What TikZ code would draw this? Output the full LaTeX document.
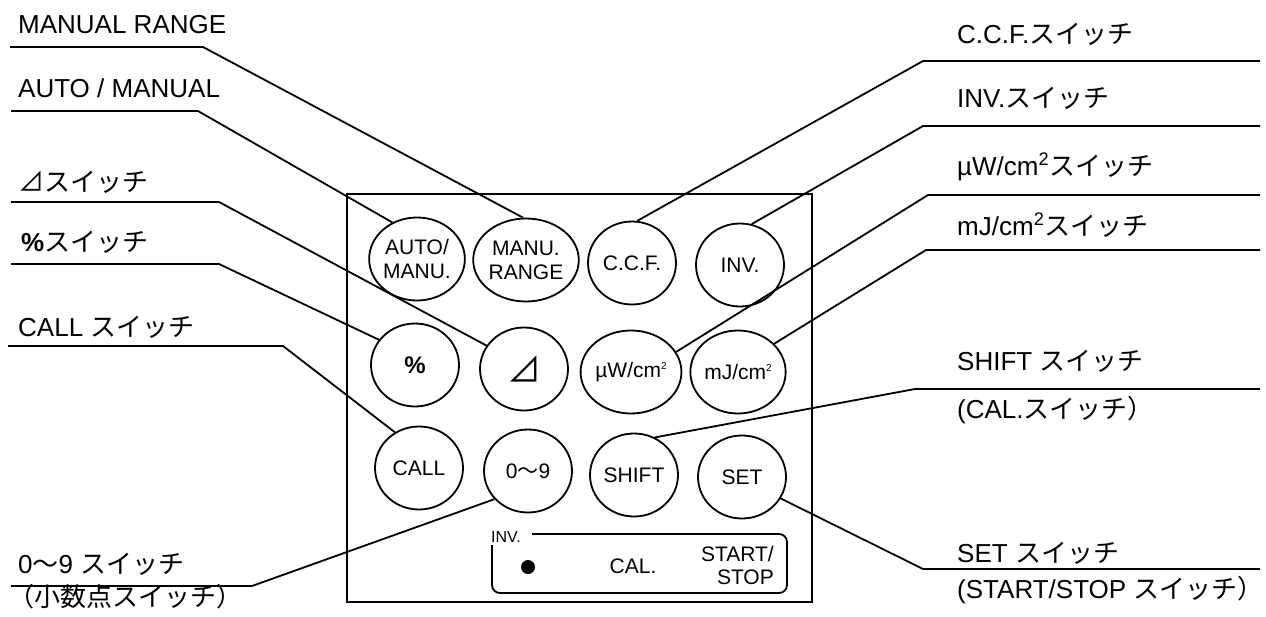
\documentclass[tikz,border=0pt]{standalone}
\usepackage{fontspec}
\setmainfont{Liberation Sans}
\newfontfamily\jp{Noto Sans CJK JP}
\usetikzlibrary{shapes.geometric}
\newcommand{\tinysq}{\raisebox{0.75ex}{\fontsize{10}{10}\selectfont 2}}
\tikzset{
  % tasten
  key/.style={ellipse,draw,line width=1.8pt,minimum width=88pt,minimum height=83pt,
              inner sep=0pt,align=center,font=\fontsize{21}{24}\selectfont},
  lbl/.style={anchor=base west,inner sep=0pt,font=\fontsize{26}{30}\selectfont},
  lead/.style={draw,line width=1.8pt},
}

\begin{document}
\begin{tikzpicture}[x=1pt,y=-1pt,
   small/.style={inner sep=0pt,font=\fontsize{21}{23}\selectfont}]
  \useasboundingbox (0,0) rectangle (1266,616);
  \draw[line width=1.8pt] (347,194) rectangle (812,602);
  \node[key] (auto) at (417,259) {AUTO/\\MANU.};
  \node[key] (manu) at (526,260) {MANU.\\RANGE};
  \node[key] (ccf) at (632,263) {C.C.F.};
  \node[key] (inv) at (740,265) {INV.};
  \node[key,font=\fontsize{24}{26}\selectfont\bfseries] (pct) at (415,365) {\%};
  \node[key,font=\fontsize{34}{36}\selectfont] (delta) at (524,369) {{\jp ⊿}};
  \node[key,font=\fontsize{21}{24}\selectfont] (uw) at (631,372) {µW/cm\tinysq};
  \node[key,font=\fontsize{21}{24}\selectfont] (mj) at (738,372) {mJ/cm\tinysq};
  \node[key] (call) at (419,468) {CALL};
  \node[key] (num) at (528,471) {0{\jp 〜}9};
  \node[key] (shift) at (634,475) {SHIFT};
  \node[key] (set) at (742,477) {SET};
  % untere leiste
  \draw[line width=1.8pt,rounded corners=8pt] (532,534) -- (787,534) -- (787,593) -- (492,593) -- (492,545);
  \node[anchor=base west,inner sep=0pt,font=\fontsize{16}{18}\selectfont] (invl) at (491,542) {INV.};
  \node[circle,fill,minimum size=14pt,inner sep=0pt] (dot) at (528,567) {};
  \node[small,anchor=base] (cal) at (633,573) {CAL.};
  \node[small,align=right,anchor=east] (ss) at (774,565) {START/\\STOP};
  % links
  \node[lbl] (tmr) at (18,33) {MANUAL RANGE};
  \node[lbl] (tam) at (18,97) {AUTO / MANUAL};
  \node[lbl] (tdl) at (18,191) {{\jp ⊿スイッチ}};
  \node[lbl] (tpc) at (21,251) {\textbf{\%}{\jp スイッチ}};
  \node[lbl] (tcl) at (18,336) {CALL {\jp スイッチ}};
  \node[lbl] (tnm) at (18,573) {0{\jp 〜}9 {\jp スイッチ}};
  \node[lbl] (tdp) at (8,606) {{\jp （小数点スイッチ）}};
  \coordinate (a1) at (10,47);  \coordinate (b1) at (203,47);
  \coordinate (a2) at (11,111); \coordinate (b2) at (198,111);
  \coordinate (a3) at (11,202); \coordinate (b3) at (219,202);
  \coordinate (a4) at (11,264); \coordinate (b4) at (219,264);
  \coordinate (a5) at (8,346);  \coordinate (b5) at (283,346);
  \coordinate (a6) at (11,586); \coordinate (b6) at (252,586);
  \draw[lead] (a1) -- (b1) -- (manu.94);
  \draw[lead] (a2) -- (b2) -- (auto.124);
  \draw[lead] (a3) -- (b3) -- (delta.148);
  \draw[lead] (a4) -- (b4) -- (pct.145);
  \draw[lead] (a5) -- (b5) -- (call.124);
  \draw[lead] (a6) -- (b6) -- (num.220);
  % rechts
  \node[lbl] (tcc) at (957,43) {C.C.F.{\jp スイッチ}};
  \node[lbl] (tiv) at (957,107) {INV.{\jp スイッチ}};
  \node[lbl] (tuw) at (957,175) {µW/cm\textsuperscript{2}{\jp スイッチ}};
  \node[lbl] (tmj) at (957,235) {mJ/cm\textsuperscript{2}{\jp スイッチ}};
  \node[lbl] (tsh) at (957,370) {SHIFT {\jp スイッチ}};
  \node[lbl] (tca) at (957,418) {(CAL.{\jp スイッチ）}};
  \node[lbl] (tse) at (957,562) {SET {\jp スイッチ}};
  \node[lbl] (tst) at (957,598) {(START/STOP {\jp スイッチ）}};
  \coordinate (c1) at (1260,61);  \coordinate (d1) at (923,61);
  \coordinate (c2) at (1260,126); \coordinate (d2) at (923,126);
  \coordinate (c3) at (1260,195); \coordinate (d3) at (928,195);
  \coordinate (c4) at (1260,250); \coordinate (d4) at (926,250);
  \coordinate (c5) at (1260,389); \coordinate (d5) at (915,389);
  \coordinate (c6) at (1260,569); \coordinate (d6) at (923,569);
  \draw[lead] (c1) -- (d1) -- (ccf.83);
  \draw[lead] (c2) -- (d2) -- (inv.74);
  \draw[lead] (c3) -- (d3) -- (uw.24);
  \draw[lead] (c4) -- (d4) -- (mj.38);
  \draw[lead] (c5) -- (d5) -- (shift.61);
  \draw[lead] (c6) -- (d6) -- (set.331);
\end{tikzpicture}
\end{document}
